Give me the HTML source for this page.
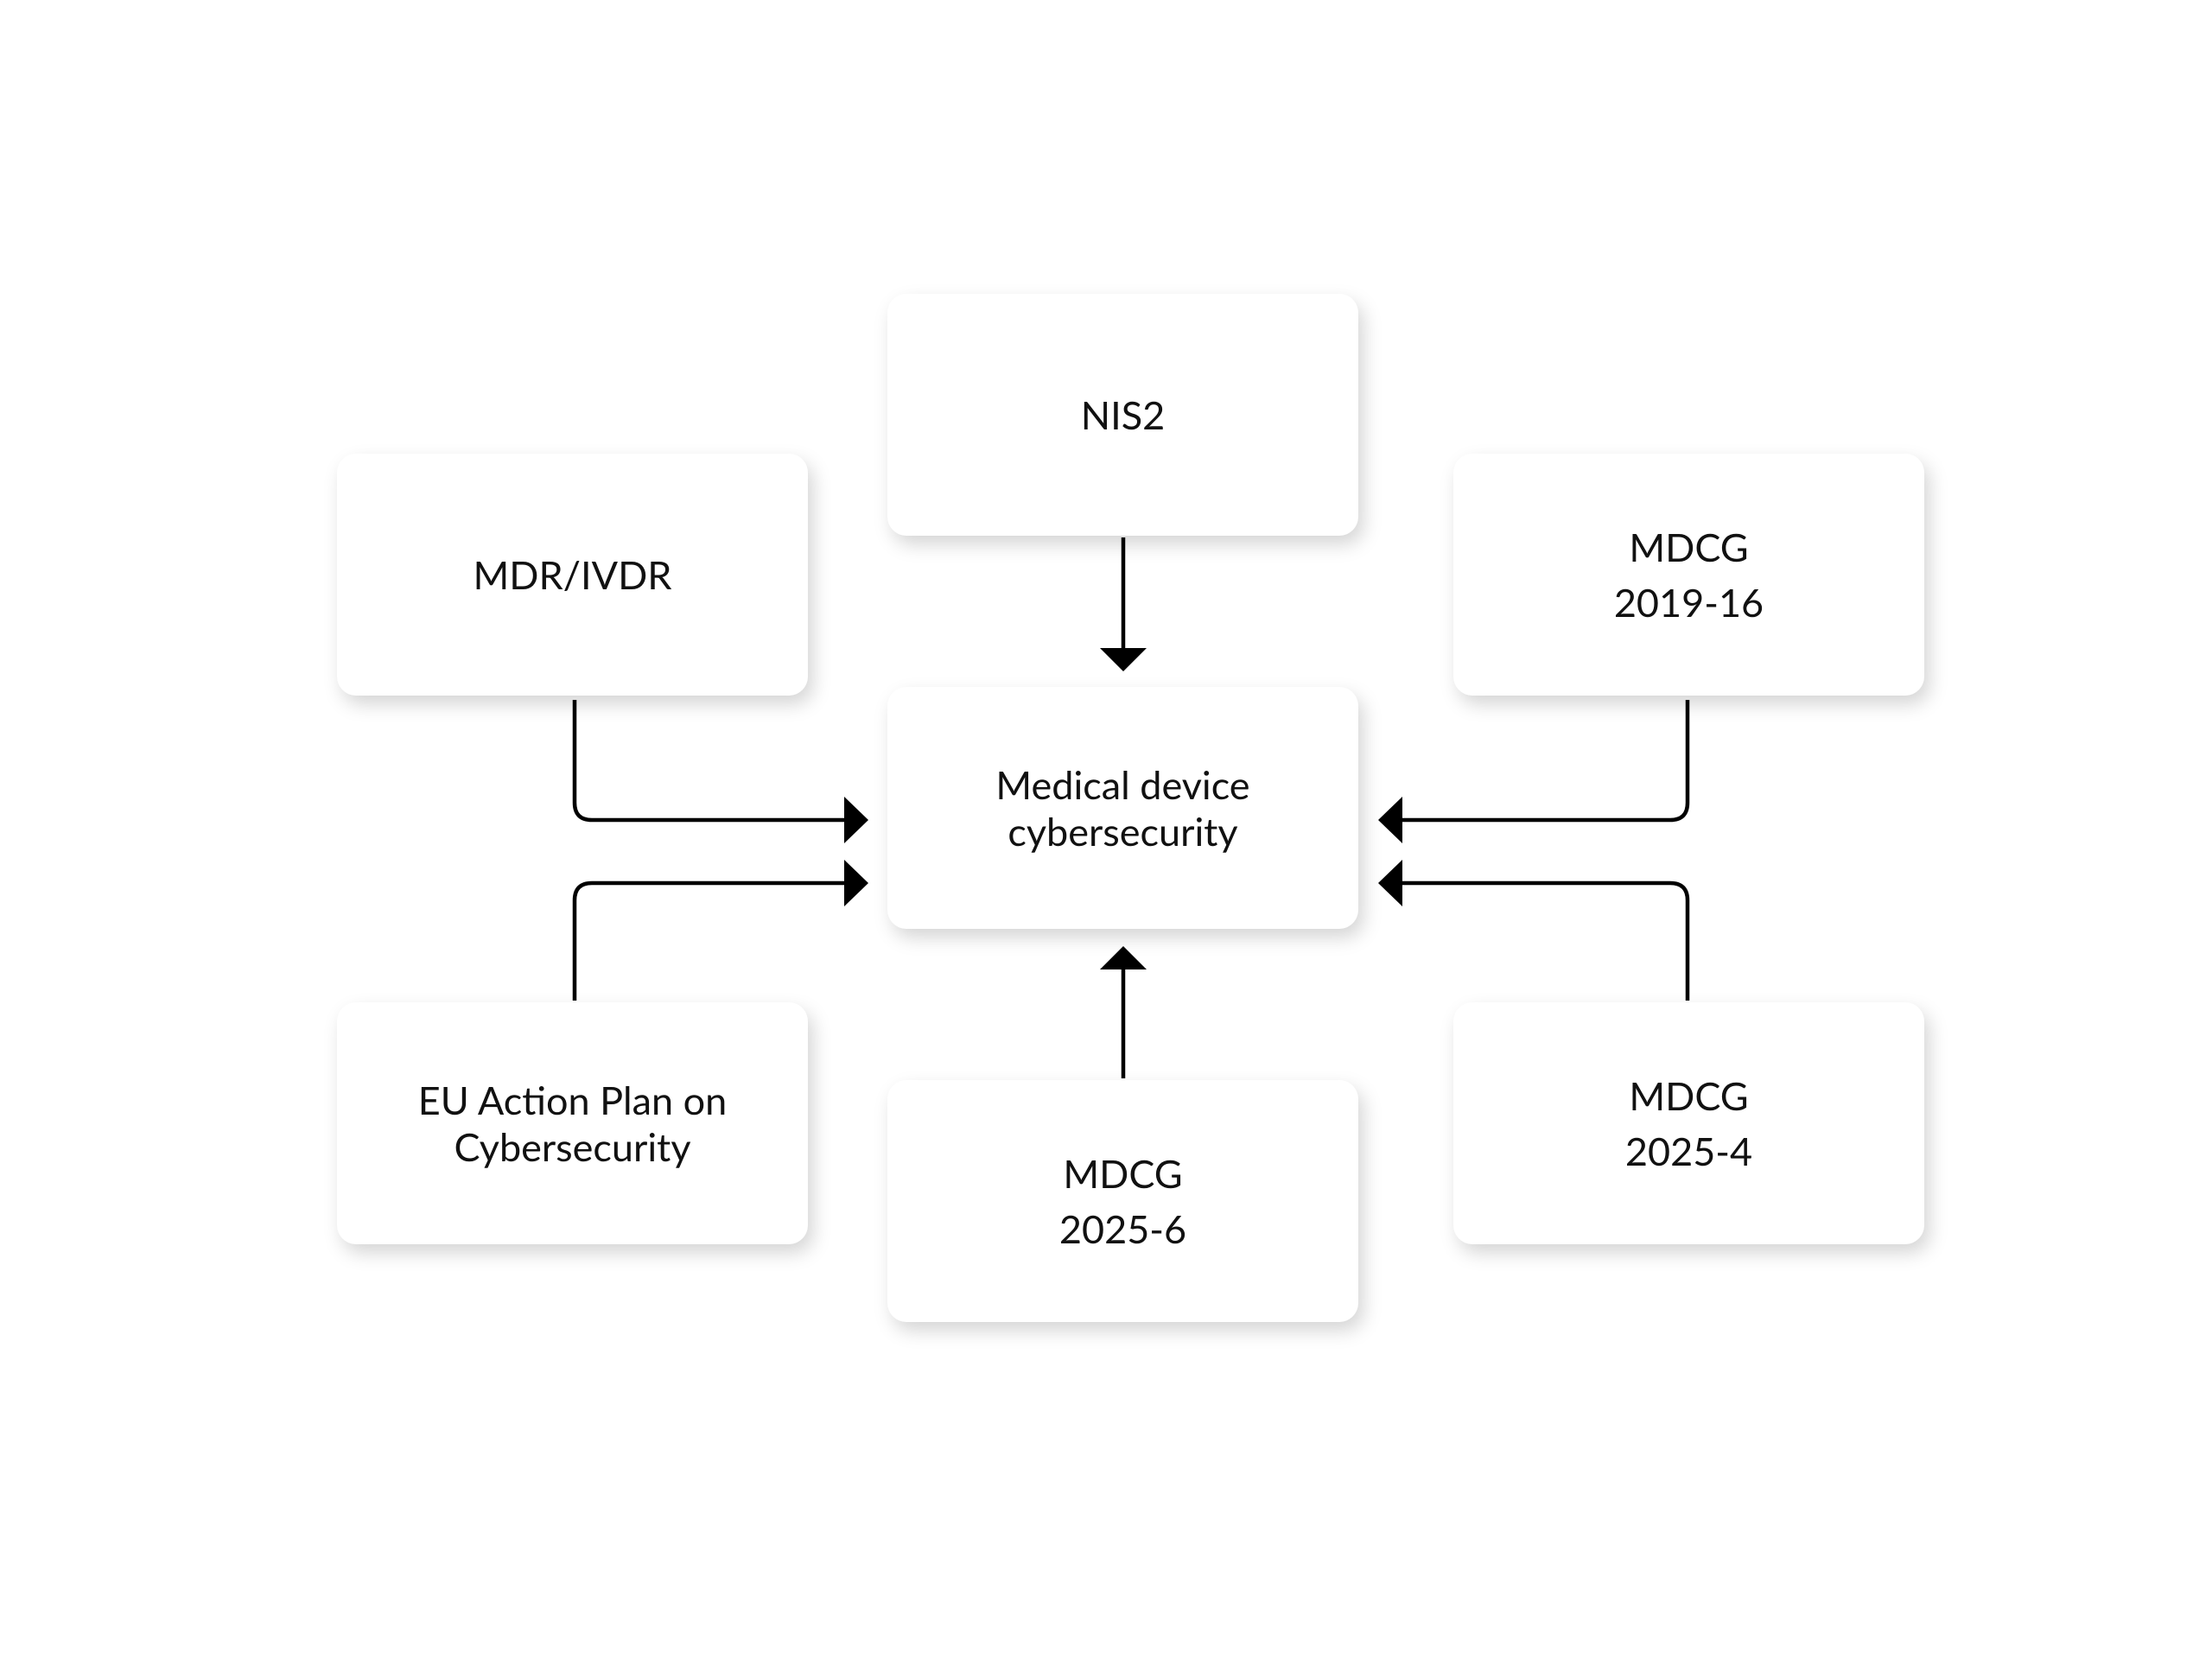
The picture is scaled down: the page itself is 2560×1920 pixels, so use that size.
<!DOCTYPE html>
<html><head><style>
html,body{margin:0;padding:0;background:#fff;width:2560px;height:1920px;overflow:hidden;position:relative}
.b{position:absolute;width:545px;height:280px;background:#fff;border-radius:22px;box-shadow:6px 10px 22px rgba(0,0,0,0.17);display:flex;align-items:center;justify-content:center;text-align:center;font-family:"Lato","Liberation Sans",sans-serif;font-size:45px;color:#111;line-height:64px}
.t{line-height:54px}
svg{position:absolute;left:0;top:0}
</style></head><body>
<div class="b" style="left:1027px;top:340px">NIS2</div>
<div class="b" style="left:390px;top:525px">MDR/IVDR</div>
<div class="b" style="left:1682px;top:525px">MDCG<br>2019-16</div>
<div class="b t" style="left:1027px;top:795px">Medical device<br>cybersecurity</div>
<div class="b t" style="left:390px;top:1160px">EU Action Plan on<br>Cybersecurity</div>
<div class="b" style="left:1027px;top:1250px">MDCG<br>2025-6</div>
<div class="b" style="left:1682px;top:1160px">MDCG<br>2025-4</div>
<svg width="2560" height="1920" viewBox="0 0 2560 1920">
<g fill="none" stroke="#000" stroke-width="4.5">
<path d="M1300 622 V752"/>
<path d="M1300 1248 V1120"/>
<path d="M665 810 V929 Q665 949 685 949 H980"/>
<path d="M665 1158 V1042 Q665 1022 685 1022 H980"/>
<path d="M1953 810 V929 Q1953 949 1933 949 H1620"/>
<path d="M1953 1158 V1042 Q1953 1022 1933 1022 H1620"/>
</g>
<g fill="#000">
<path d="M1273 750 H1327 L1300 777 Z"/>
<path d="M1273 1122 H1327 L1300 1095 Z"/>
<path d="M977 922 V976 L1005 949 Z"/>
<path d="M977 995 V1049 L1005 1022 Z"/>
<path d="M1623 922 V976 L1595 949 Z"/>
<path d="M1623 995 V1049 L1595 1022 Z"/>
</g>
</svg>
</body></html>
